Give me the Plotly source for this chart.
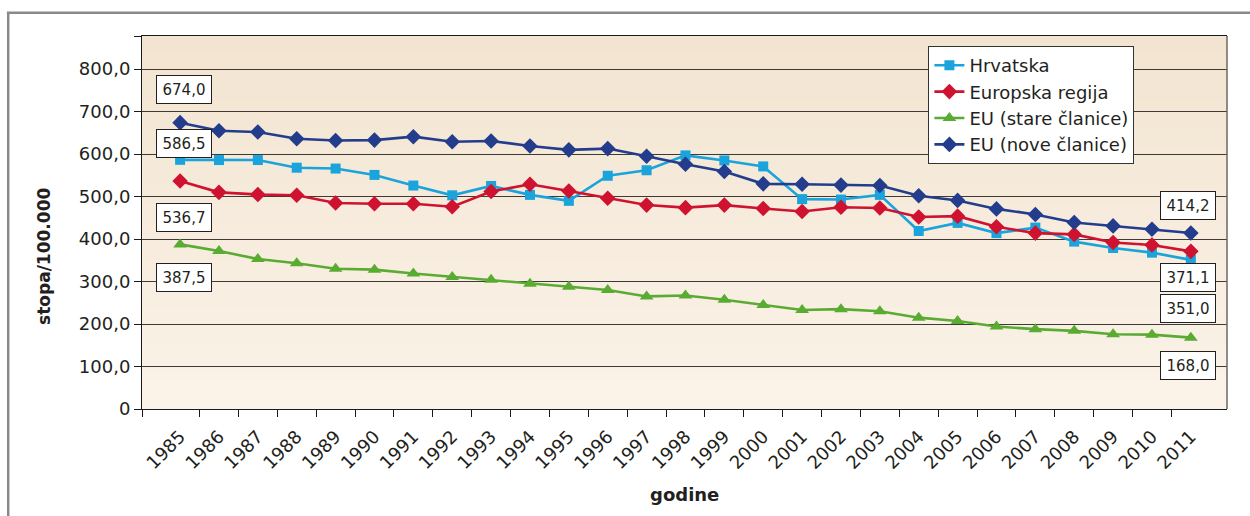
import plotly.graph_objects as go

# Mortality rate per 100,000, 1985-2011
years = list(range(1985, 2012))
year_labels = [str(y) for y in years]

hrvatska = [586.5, 586, 586, 568, 566, 551, 526, 503, 525, 504, 490, 549, 562, 597,
            585, 571, 494, 493, 504, 419, 438, 414, 427, 394, 379, 368, 351.0]
europska_regija = [536.7, 510, 505, 503, 485, 483, 483, 476, 512, 529, 513, 496, 480, 474,
                   480, 472, 465, 475, 473, 452, 454, 429, 414, 411, 392, 386, 371.1]
eu_stare = [387.5, 372, 353, 343, 330, 328, 319, 311, 304, 295, 288, 280, 265, 267,
            257, 245, 233, 235, 230, 215, 207, 194, 188, 184, 176, 175, 168.0]
eu_nove = [674.0, 655, 652, 636, 632, 633, 641, 629, 631, 619, 610, 613, 595, 576,
           559, 530, 529, 527, 526, 502, 491, 471, 458, 439, 431, 423, 414.2]

y_tick_values = [0, 100, 200, 300, 400, 500, 600, 700, 800]
y_tick_labels = ["0", "100,0", "200,0", "300,0", "400,0", "500,0", "600,0", "700,0", "800,0"]

FONT = "DejaVu Sans"
TEXT = "#231f20"

series = [
    ("Hrvatska", hrvatska, "#1ba3dc", "square", 10),
    ("Europska regija", europska_regija, "#cf1230", "diamond", 12),
    ("EU (stare članice)", eu_stare, "#5aab32", "triangle-up", 12),
    ("EU (nove članice)", eu_nove, "#233d8c", "diamond", 12),
]

fig = go.Figure()
for name, vals, color, symbol, size in series:
    fig.add_trace(go.Scatter(
        x=years, y=vals, name=name, mode="lines+markers",
        line=dict(color=color, width=2.6),
        marker=dict(symbol=symbol, size=size, color=color, line=dict(width=0)),
    ))

X_MIN, X_MAX = 1984.02, 2011.93
Y_MAX = 878

# End-point value boxes: (series values, index, x shift px, y shift px)
def fmt(v):
    return f"{v:.1f}".replace(".", ",")

value_boxes = [
    (eu_nove, 0, 4, 33), (hrvatska, 0, 4, 16), (europska_regija, 0, 4, -37),
    (eu_stare, 0, 4, -33),
    (eu_nove, -1, -3, 28), (europska_regija, -1, -3, -26), (hrvatska, -1, -3, -49),
    (eu_stare, -1, -3, -28),
]
annotations = []
for vals, idx, dx, dy in value_boxes:
    annotations.append(dict(
        x=years[idx], y=vals[idx], xref="x", yref="y", text=fmt(vals[idx]),
        showarrow=False, xshift=dx, yshift=dy,
        font=dict(family=FONT, size=15, color=TEXT),
        bgcolor="white", bordercolor="#231f20", borderwidth=1, borderpad=3,
        width=48, height=21,
    ))

annotations.append(dict(
    x=-0.0899, y=0.409, xref="paper", yref="paper", text="<b>stopa/100.000</b>",
    xanchor="center", yanchor="middle",
    textangle=-90, showarrow=False, font=dict(family=FONT, size=17, color=TEXT),
))
annotations.append(dict(
    x=0.5, y=-0.2296, xref="paper", yref="paper", text="<b>godine</b>",
    xanchor="center", yanchor="middle",
    showarrow=False, font=dict(family=FONT, size=18, color=TEXT),
))

# Warm vertical gradient behind the plot area
shapes = []
top_rgb = (242, 228, 208)
bot_rgb = (251, 243, 233)
n_strips = 40
for i in range(n_strips):
    t = i / (n_strips - 1)
    c = tuple(round(bot_rgb[k] + (top_rgb[k] - bot_rgb[k]) * t) for k in range(3))
    shapes.append(dict(
        type="rect", xref="paper", yref="paper", layer="below",
        x0=0, x1=1, y0=i / n_strips, y1=(i + 1) / n_strips + 0.002,
        fillcolor=f"rgb{c}", line=dict(width=0),
    ))

# Right edge of the plot area
shapes.append(dict(type="line", xref="paper", yref="paper", x0=1, x1=1, y0=0, y1=1,
                   line=dict(color="#6f6763", width=1.5)))
# Outer frame (left and top)
shapes.append(dict(type="line", xref="paper", yref="paper", x0=-0.1233, x1=-0.1233,
                   y0=1.0624, y1=-0.32, line=dict(color="#8a8a8a", width=2.5)))
shapes.append(dict(type="line", xref="paper", yref="paper", x0=-0.1245, x1=1.03,
                   y0=1.0624, y1=1.0624, line=dict(color="#8a8a8a", width=2.5)))

minor_ticks = [X_MIN] + [y + 0.5 for y in years[:-1]]

fig.update_layout(
    width=1250, height=516,
    margin=dict(l=142, r=23, t=36, b=107),
    paper_bgcolor="white",
    plot_bgcolor="rgb(247,236,220)",
    font=dict(family=FONT, color=TEXT),
    showlegend=True,
    legend=dict(
        x=0.7248, y=0.9732, xanchor="left", yanchor="top",
        bgcolor="white", bordercolor="#333333", borderwidth=1,
        font=dict(family=FONT, size=18, color=TEXT),
        itemwidth=30, tracegroupgap=0,
    ),
    annotations=annotations,
    shapes=shapes,
    xaxis=dict(
        range=[X_MIN, X_MAX], tickmode="array", tickvals=years, ticktext=year_labels,
        tickangle=-45, ticks="", showgrid=False, zeroline=False,
        showline=True, linecolor="#1a1a1a", linewidth=1, mirror=True,
        ticklabelstandoff=9,
        tickfont=dict(family=FONT, size=18, color=TEXT),
        minor=dict(tickmode="array", tickvals=minor_ticks, ticks="outside",
                   ticklen=7, tickcolor="#1a1a1a", tickwidth=1, showgrid=False),
    ),
    yaxis=dict(
        range=[0, Y_MAX], tickmode="array",
        tickvals=y_tick_values + [Y_MAX], ticktext=y_tick_labels + [""],
        ticks="outside", ticklen=7, tickcolor="#1a1a1a",
        showgrid=True, gridcolor="#3f3a37", gridwidth=1, zeroline=False,
        showline=True, linecolor="#1a1a1a", linewidth=1,
        tickfont=dict(family=FONT, size=18, color=TEXT),
    ),
)

fig.write_html("out.html")
